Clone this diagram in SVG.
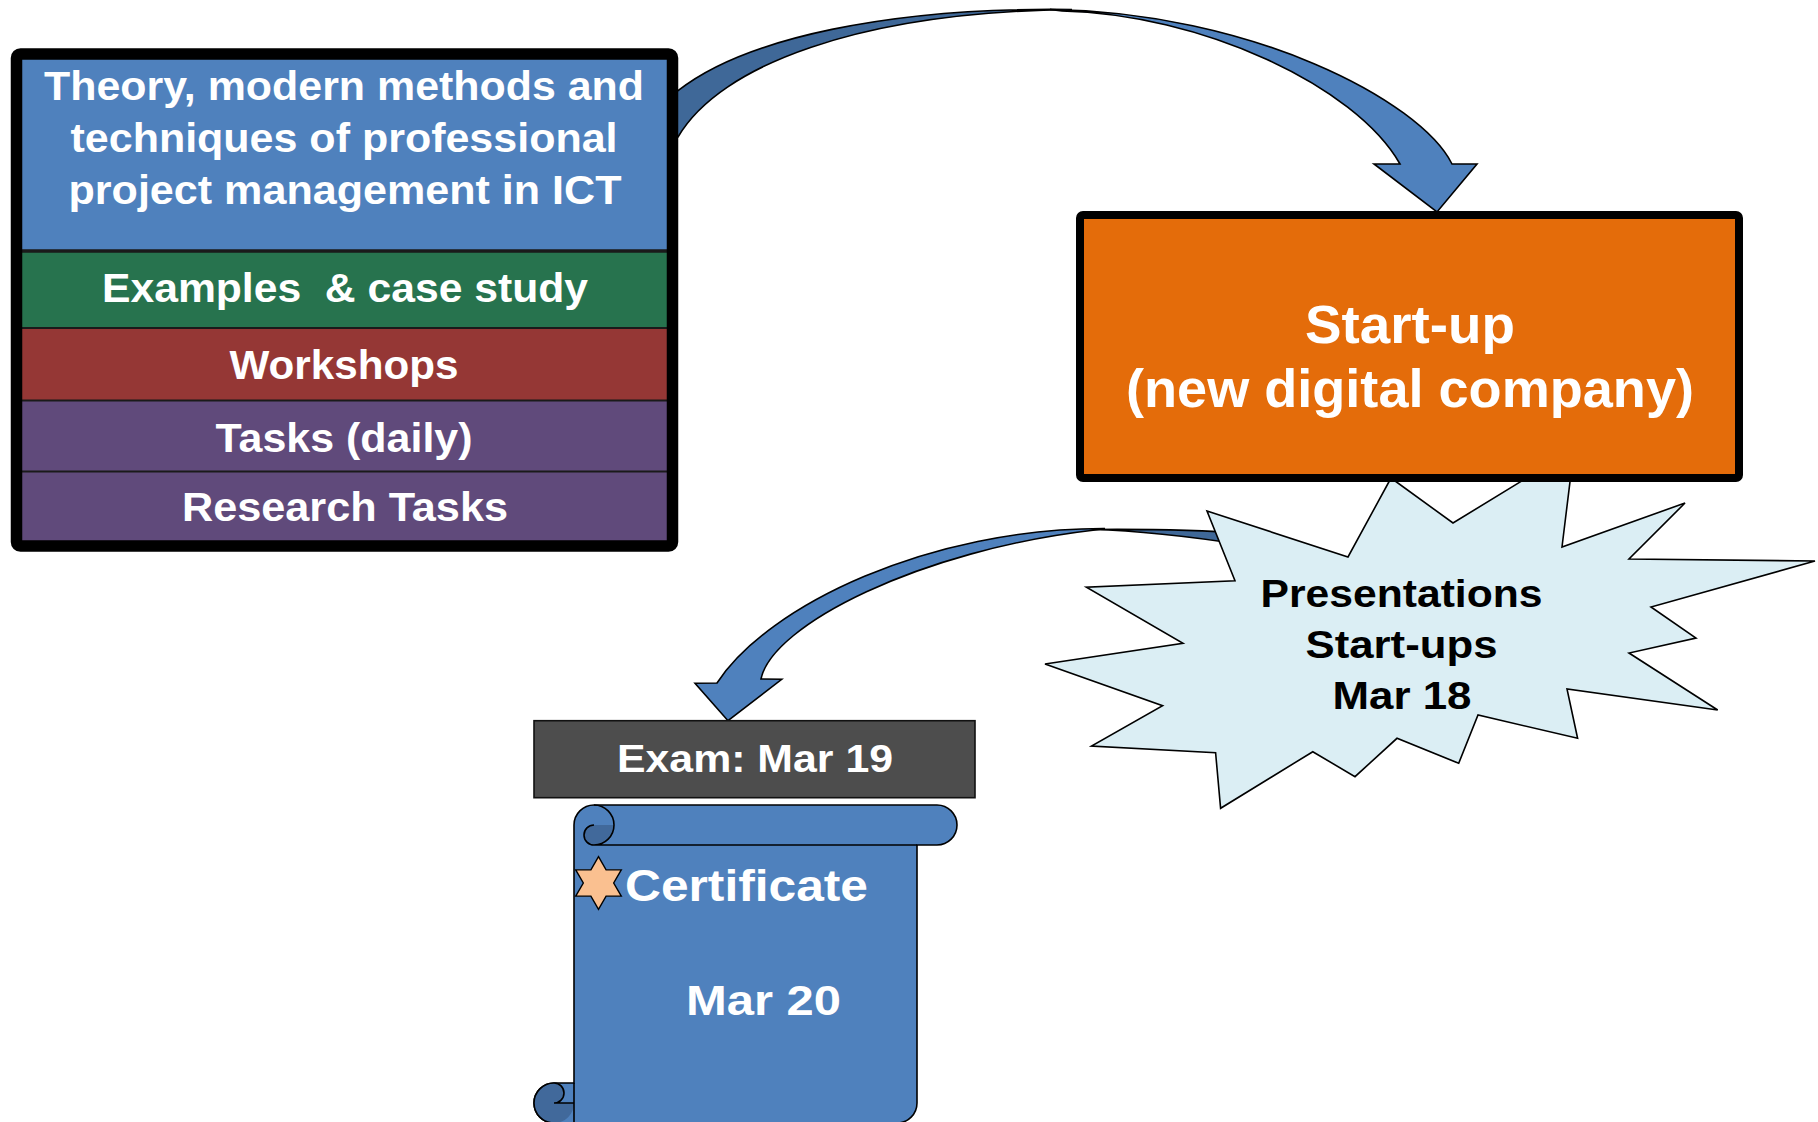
<svg xmlns="http://www.w3.org/2000/svg" width="1818" height="1122" viewBox="0 0 1818 1122">
<style>
.t{font-family:"Liberation Sans",Arial,sans-serif;font-weight:bold;}
.w{fill:#ffffff}
.k{fill:#000000}
.ol{stroke:#000000;stroke-width:1.6;stroke-linejoin:miter}
.front{fill:#4F81BD}
.back{fill:#3F6898}
.sep{stroke:#1a1a1a}
</style>
<g id="connectors">
  <g id="arrow-course-to-startup">
    <path class="back ol" d="M672,90.7 L678,90.7 C745,38 890,7 1072,9.5 C860,12 720,65 678,137 L672,137 Z"/>
    <path class="front ol" d="M1050,9.5 C1250,12 1420,100 1452,164 L1477,164 L1437,212 L1374,164 L1400,164 C1355,85 1200,14 1062,11 Z"/>
  </g>
  <g id="arrow-presentations-to-exam">
    <path class="back ol" d="M1092,529.5 C1150,529 1200,530 1245,533.5 L1245,545 C1200,538 1150,531 1092,529.5 Z"/>
    <path class="front ol" d="M1105,528.5 C930,528 768,605 717,683 L695,683.3 L728,720.7 L781.7,679.3 L761,679 C772,625 920,550 1095,530 Z"/>
  </g>
</g>
<g id="presentations-star">
  <polygon fill="#DBEEF4" stroke="#000" stroke-width="1.6" points="1207,511 1348,557 1391,478 1453,523 1574,449 1562,547 1685,503 1629,559 1815,561 1651,607 1696,638 1629,653 1717.7,710 1567,689 1577.6,738.3 1478,715 1458.7,763.3 1397,738.3 1355,776.7 1312.8,751.7 1220.6,808.3 1215.6,752.7 1091.5,746 1162.6,705.7 1045,664 1183,643.3 1086.4,587.3 1235,580.7"/>
  <text class="t k" font-size="38" x="1401.5" y="607.3" text-anchor="middle" textLength="282" lengthAdjust="spacingAndGlyphs">Presentations</text>
  <text class="t k" font-size="38" x="1401.5" y="658.3" text-anchor="middle" textLength="192" lengthAdjust="spacingAndGlyphs">Start-ups</text>
  <text class="t k" font-size="38" x="1402" y="709.3" text-anchor="middle" textLength="139" lengthAdjust="spacingAndGlyphs">Mar 18</text>
</g>
<g id="course-box">
  <rect x="16.5" y="54" width="656" height="492" fill="#4F81BD"/>
  <rect x="16.5" y="251" width="656" height="77" fill="#27734E"/>
  <rect x="16.5" y="328" width="656" height="72.5" fill="#953735"/>
  <rect x="16.5" y="400.5" width="656" height="71" fill="#604A7B"/>
  <rect x="16.5" y="471.5" width="656" height="74.5" fill="#604A7B"/>
  <line class="sep" x1="16.5" y1="251" x2="672.5" y2="251" stroke-width="3.5"/>
  <line class="sep" x1="16.5" y1="328" x2="672.5" y2="328" stroke-width="2.2"/>
  <line class="sep" x1="16.5" y1="400.5" x2="672.5" y2="400.5" stroke-width="2"/>
  <line class="sep" x1="16.5" y1="471.5" x2="672.5" y2="471.5" stroke-width="1.8"/>
  <rect x="16.5" y="54" width="656" height="492" rx="4" fill="none" stroke="#000" stroke-width="11.5"/>
  <text class="t w" font-size="40" x="344" y="100" text-anchor="middle" textLength="600" lengthAdjust="spacingAndGlyphs">Theory, modern methods and</text>
  <text class="t w" font-size="40" x="344" y="152" text-anchor="middle" textLength="547" lengthAdjust="spacingAndGlyphs">techniques of professional</text>
  <text class="t w" font-size="40" x="345" y="203.5" text-anchor="middle" textLength="553" lengthAdjust="spacingAndGlyphs">project management in ICT</text>
  <text class="t w" font-size="40" x="345" y="302" text-anchor="middle" textLength="486" lengthAdjust="spacingAndGlyphs" xml:space="preserve">Examples  &amp; case study</text>
  <text class="t w" font-size="40" x="344" y="378.6" text-anchor="middle" textLength="229" lengthAdjust="spacingAndGlyphs">Workshops</text>
  <text class="t w" font-size="40" x="344" y="452" text-anchor="middle" textLength="257" lengthAdjust="spacingAndGlyphs">Tasks (daily)</text>
  <text class="t w" font-size="40" x="345" y="521" text-anchor="middle" textLength="326" lengthAdjust="spacingAndGlyphs">Research Tasks</text>
</g>
<g id="startup-box">
  <rect x="1080" y="215" width="659" height="263" rx="3" fill="#E46C0A" stroke="#000" stroke-width="8"/>
  <text class="t w" font-size="53" x="1410" y="343" text-anchor="middle" textLength="210" lengthAdjust="spacingAndGlyphs">Start-up</text>
  <text class="t w" font-size="53" x="1410" y="407" text-anchor="middle" textLength="568" lengthAdjust="spacingAndGlyphs">(new digital company)</text>
</g>
<g id="exam-box">
  <rect x="534" y="720.7" width="441" height="77" fill="#4D4D4D" stroke="#111" stroke-width="1.6"/>
  <text class="t w" font-size="39" x="755" y="771.7" text-anchor="middle" textLength="276" lengthAdjust="spacingAndGlyphs">Exam: Mar 19</text>
</g>
<g id="certificate-scroll">
  <path class="front ol" d="M594,805 L937,805 A20,20 0 0 1 937,845 L917,845 L917,1103 A20,20 0 0 1 897,1123 L554,1123 A20,20 0 0 1 534,1103 A20,20 0 0 1 554,1083 L574,1083 L574,825 A20,20 0 0 1 594,805 Z"/>
  <path fill="#41699B" d="M594,825 L614,825 A20,20 0 0 1 594,845 A10,10 0 0 1 594,825 Z"/>
  <path fill="none" class="ol" d="M594,805 A20,20 0 0 1 594,845 L917,845 M594,845 A10,10 0 0 1 594,825"/>
  <path fill="#41699B" d="M554,1083 A10,10 0 0 1 554,1103 L574,1103 A20,20 0 0 1 554,1123 A20,20 0 0 1 534,1103 A20,20 0 0 1 554,1083 Z"/>
  <path fill="none" class="ol" d="M554,1083 A10,10 0 0 1 554,1103 L574,1103 M574,1083 L574,1123 M554,1123 A20,20 0 0 1 534,1103 A20,20 0 0 1 554,1083"/>
  <polygon fill="#FAC090" stroke="#000" stroke-width="1.4" points="598.5,856.7 606.09,869.85 621.28,869.85 613.68,883 621.28,896.15 606.09,896.15 598.5,909.3 590.91,896.15 575.72,896.15 583.32,883 575.72,869.85 590.91,869.85"/>
  <text class="t w" font-size="45" x="625" y="901" textLength="243" lengthAdjust="spacingAndGlyphs">Certificate</text>
  <text class="t w" font-size="42" x="686" y="1015" textLength="155" lengthAdjust="spacingAndGlyphs">Mar 20</text>
</g>
</svg>
